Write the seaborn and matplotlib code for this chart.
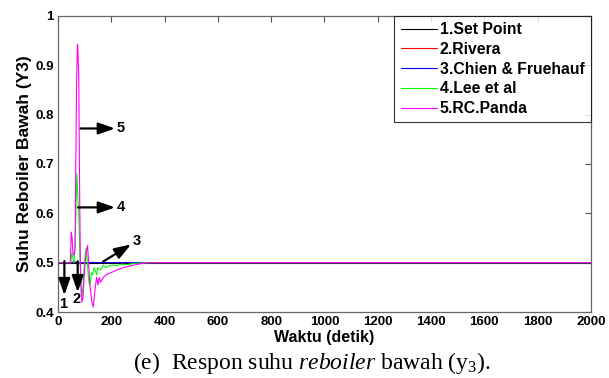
import matplotlib
matplotlib.use("Agg")
import matplotlib.pyplot as plt
import seaborn as sns
import numpy as np
import pandas as pd

sns.set_style("white")
plt.rcParams["font.family"] = ["Liberation Sans", "DejaVu Sans"]
plt.rcParams["text.color"] = "black"
plt.rcParams["axes.labelcolor"] = "black"
plt.rcParams["mathtext.fontset"] = "custom"
plt.rcParams["mathtext.rm"] = "Liberation Serif"
plt.rcParams["mathtext.it"] = "Liberation Serif:italic"

# --- data ---
setpoint_t = [0, 2000]
setpoint_y = [0.5, 0.5]

rivera_t = [0, 50, 60, 80, 120, 200, 2000]
rivera_y = [0.5, 0.5, 0.501, 0.4995, 0.5003, 0.5, 0.5]

chien_t = [0, 50, 60, 80, 120, 200, 2000]
chien_y = [0.5, 0.5, 0.502, 0.499, 0.5005, 0.5, 0.5]

lee_t = [0, 48, 52, 56, 60, 64, 68, 71, 74, 78, 82, 86, 90, 94, 98, 102, 106,
         110, 114, 118, 122, 126, 130, 135, 140, 145, 150, 160, 170, 180, 190,
         200, 220, 240, 260, 280, 300, 340, 2000]
lee_y = [0.5, 0.5, 0.52, 0.51, 0.5, 0.53, 0.62, 0.68, 0.64, 0.6, 0.52, 0.46,
         0.43, 0.45, 0.49, 0.515, 0.53, 0.5, 0.47, 0.455, 0.46, 0.48, 0.475,
         0.49, 0.485, 0.475, 0.49, 0.485, 0.495, 0.49, 0.493, 0.495, 0.494,
         0.497, 0.496, 0.498, 0.499, 0.5, 0.5]

panda_t = [0, 46, 50, 53, 56, 60, 64, 67, 70, 73, 75, 78, 81, 84, 87, 90, 94,
           98, 102, 106, 111, 115, 119, 123, 127, 132, 136, 140, 145, 150, 155,
           160, 165, 170, 180, 190, 200, 220, 240, 260, 283, 310, 345, 2000]
panda_y = [0.5, 0.5, 0.562, 0.55, 0.52, 0.515, 0.53, 0.71, 0.87, 0.943, 0.93,
           0.875, 0.66, 0.5, 0.44, 0.42, 0.43, 0.47, 0.5, 0.52, 0.535, 0.5,
           0.46, 0.44, 0.42, 0.41, 0.43, 0.45, 0.47, 0.455, 0.47, 0.46, 0.465,
           0.47, 0.475, 0.478, 0.48, 0.485, 0.489, 0.492, 0.495, 0.498, 0.5, 0.5]

labels = ["1.Set Point", "2.Rivera", "3.Chien & Fruehauf", "4.Lee et al", "5.RC.Panda"]
colors = ["black", "red", "blue", "#00ff00", "#ff00ff"]
series = [(setpoint_t, setpoint_y), (rivera_t, rivera_y), (chien_t, chien_y),
          (lee_t, lee_y), (panda_t, panda_y)]

x_ticks = list(range(0, 2001, 200))
y_ticks = [0.4, 0.5, 0.6, 0.7, 0.8, 0.9, 1.0]
y_tick_labels = ["0.4", "0.5", "0.6", "0.7", "0.8", "0.9", "1"]

fig = plt.figure(figsize=(6.09, 3.78), dpi=100)
ax = fig.add_axes([0.0952, 0.1746, 0.8752, 0.7831])

for (t, y), lab, c in zip(series, labels, colors):
    df = pd.DataFrame({"t": t, "y": y})
    sns.lineplot(data=df, x="t", y="y", ax=ax, color=c, lw=0.8, label=lab,
                 estimator=None, sort=False)

ax.set_xlim(0, 2000)
ax.set_ylim(0.4, 1.0)
ax.set_xticks(x_ticks)
ax.set_yticks(y_ticks)
ax.set_yticklabels(y_tick_labels)
ax.tick_params(direction="in", top=True, right=True, length=4, width=0.8,
               labelsize=9.5, colors="#555555", labelcolor="black", pad=3)
for lbl in ax.get_xticklabels() + ax.get_yticklabels():
    lbl.set_fontweight("bold")
for sp in ax.spines.values():
    sp.set_color("#666666")
    sp.set_linewidth(0.9)

ax.set_xlabel("Waktu (detik)", fontsize=11.5, fontweight="bold", labelpad=1)
ax.set_ylabel("Suhu Reboiler Bawah (Y3)", fontsize=12.5, fontweight="bold", labelpad=2)

leg = ax.legend(loc="upper right", fontsize=11.3, handlelength=2.3,
                handletextpad=0.2, borderaxespad=0, borderpad=0.4,
                labelspacing=0.3, frameon=True, fancybox=False)
leg.get_frame().set_edgecolor("black")
leg.get_frame().set_linewidth(0.8)
for txt in leg.get_texts():
    txt.set_fontweight("bold")

arrow = dict(arrowstyle="-|>,head_length=1.0,head_width=0.35", color="black",
             lw=1.6, mutation_scale=10, shrinkA=0, shrinkB=0)
num_font = dict(fontsize=10.5, fontweight="bold", va="center")
ax.annotate("", xy=(214, 0.772), xytext=(85, 0.772), arrowprops=arrow)
ax.text(220, 0.772, "5", ha="left", **num_font)
ax.annotate("", xy=(214, 0.612), xytext=(75, 0.612), arrowprops=arrow)
ax.text(220, 0.612, "4", ha="left", **num_font)
ax.annotate("", xy=(274, 0.537), xytext=(169, 0.502), arrowprops=arrow)
ax.text(280, 0.543, "3", ha="left", **num_font)
ax.annotate("", xy=(24, 0.434), xytext=(24, 0.503), arrowprops=arrow)
ax.text(20, 0.416, "1", ha="center", **num_font)
ax.annotate("", xy=(74, 0.44), xytext=(74, 0.503), arrowprops=arrow)
ax.text(70, 0.426, "2", ha="center", **num_font)

fig.text(0.512, 0.04, r"(e)  Respon suhu $\it{reboiler}$ bawah (y$_3$).",
         family=["Liberation Serif"], fontsize=17, ha="center", va="center")

fig.savefig("out.png", dpi=100)
